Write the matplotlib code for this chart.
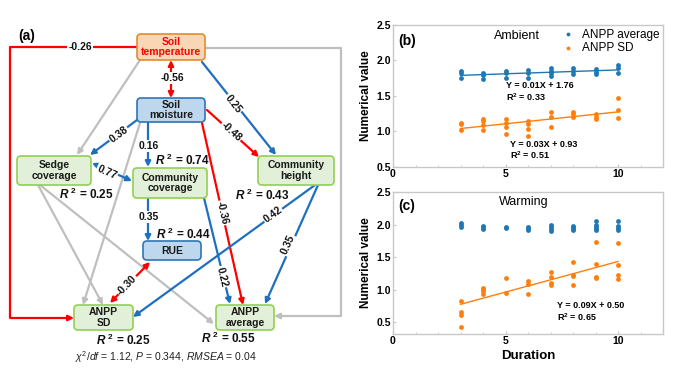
import math
import numpy as np
import matplotlib
matplotlib.use("Agg")
import matplotlib.pyplot as plt
from matplotlib.patches import FancyBboxPatch
from matplotlib.ticker import MultipleLocator

plt.rcParams['font.family'] = ['Liberation Sans', 'DejaVu Sans']
plt.rcParams['mathtext.fontset'] = 'custom'
plt.rcParams['mathtext.rm'] = 'Liberation Sans'
plt.rcParams['mathtext.it'] = 'Liberation Sans:italic'
plt.rcParams['mathtext.bf'] = 'Liberation Sans:bold'
plt.rcParams['mathtext.bfit'] = 'Liberation Sans:bold:italic'

# ---------------- data: panel (b) Ambient ----------------
amb_avg_x = [3, 3, 3, 4, 4, 4, 5, 5, 5, 6, 6, 6, 7, 7, 7, 7, 8, 8, 8, 9, 9, 9, 10, 10, 10]
amb_avg_y = [1.85, 1.83, 1.76, 1.82, 1.80, 1.74, 1.85, 1.82, 1.76, 1.86, 1.82, 1.75,
             1.89, 1.85, 1.82, 1.78, 1.89, 1.85, 1.81, 1.88, 1.84, 1.81, 1.93, 1.90, 1.82]
amb_sd_x = [3, 3, 3, 4, 4, 4, 4, 5, 5, 5, 5, 6, 6, 6, 6, 7, 7, 7, 8, 8, 8, 9, 9, 9, 10, 10, 10]
amb_sd_y = [1.12, 1.10, 1.02, 1.18, 1.15, 1.09, 1.02, 1.17, 1.12, 1.07, 0.97,
            1.15, 1.10, 1.04, 0.94, 1.28, 1.21, 1.07, 1.28, 1.25, 1.21,
            1.25, 1.21, 1.18, 1.47, 1.30, 1.19]
amb_avg_eq = ["Y = 0.01X + 1.76", "0.33"]
amb_sd_eq = ["Y = 0.03X + 0.93", "0.51"]

# ---------------- data: panel (c) Warming ----------------
warm_avg_x = [3, 3, 3, 4, 4, 4, 5, 5, 6, 6, 6, 7, 7, 7, 7, 8, 8, 8, 8, 9, 9, 9, 9, 9, 10, 10, 10, 10]
warm_avg_y = [2.02, 1.99, 1.96, 1.98, 1.96, 1.93, 1.96, 1.94, 1.96, 1.94, 1.92,
              1.99, 1.96, 1.93, 1.90, 1.98, 1.96, 1.93, 1.91,
              2.06, 2.00, 1.96, 1.93, 1.91, 2.05, 1.98, 1.95, 1.91]
warm_sd_x = [3, 3, 3, 3, 4, 4, 4, 4, 5, 5, 6, 6, 6, 7, 7, 7, 7, 8, 8, 8, 8, 9, 9, 9, 9, 10, 10, 10, 10]
warm_sd_y = [0.82, 0.66, 0.61, 0.43, 1.03, 1.01, 0.98, 0.94, 1.18, 0.95, 1.14, 1.09, 0.94,
             1.27, 1.20, 1.11, 1.07, 1.42, 1.23, 1.21, 1.07, 1.73, 1.40, 1.20, 1.18,
             1.71, 1.38, 1.23, 1.17]
warm_sd_eq = ["Y = 0.09X + 0.50", "0.65"]

x_ticks = [0, 5, 10]
y_ticks = [0.5, 1.0, 1.5, 2.0, 2.5]

# ---------------- data: panel (a) path diagram ----------------
# node: (left, top, right, bottom) in pixel layout units, label, style
nodes = {
    'temp': ((137, 34, 205, 60), "Soil\ntemperature", 'orange'),
    'moist': ((137, 98, 205, 122), "Soil\nmoisture", 'blue'),
    'sedge': ((17, 156, 91, 185), "Sedge\ncoverage", 'green'),
    'ccov': ((133, 168, 207, 198), "Community\ncoverage", 'green'),
    'chgt': ((258, 156, 334, 185), "Community\nheight", 'green'),
    'rue': ((143, 241, 201, 260), "RUE", 'blue'),
    'sd': ((74, 305, 133, 330), "ANPP\nSD", 'green'),
    'avg': ((216, 305, 274, 330), "ANPP\naverage", 'green'),
}
r2_labels = [(182, 160, "0.74"), (86, 194, "0.25"), (262, 195, "0.43"),
             (183, 234, "0.44"), (123, 340, "0.25"), (228, 338, "0.55")]
fit_stats = r'$\chi^2$/$df$ = 1.12, $P$ = 0.344, $RMSEA$ = 0.04'

BLUE = '#1f6fc0'
RED = '#ff0000'
GRAY = '#bfbfbf'
# straight edges: start, end, color, coefficient label, label position, double-headed
edges = [
    ((202, 62), (276, 155), BLUE, "0.25", (233, 104), False),
    ((140, 60), (77, 155), GRAY, None, None, False),
    ((202, 123), (243, 305), RED, "-0.36", (222, 213), False),
    ((207, 110), (259, 157), RED, "-0.48", (231, 132), False),
    ((137, 120), (90, 155), BLUE, "0.38", (119, 135), False),
    ((148, 122), (148, 167), BLUE, "0.16", (149, 146), False),
    ((140, 123), (83, 305), GRAY, None, None, False),
    ((38, 185), (103, 305), GRAY, None, None, False),
    ((40, 185), (214, 324), GRAY, None, None, False),
    ((92, 163), (132, 181), BLUE, "0.77", (107, 172), True),
    ((148, 198), (148, 241), BLUE, "0.35", (149, 217), False),
    ((204, 198), (230, 304), BLUE, "0.22", (222, 277), False),
    ((150, 262), (110, 303), RED, "-0.30", (127, 285), True),
    ((315, 185), (133, 317), BLUE, "0.42", (273, 215), False),
    ((318, 185), (265, 304), BLUE, "0.35", (288, 245), False),
    ((171, 60), (171, 98), RED, "-0.56", (172, 78), True),
]
# elbow edges: list of points, color, label, label position
elbows = [
    ([(137, 47), (10, 47), (10, 318), (74, 318)], RED, "-0.26", (80, 47)),
    ([(205, 48), (341, 48), (341, 316), (274, 316)], GRAY, None, None),
]

styles = {
    'orange': dict(fc='#f9d7b5', ec='#e58a2e', tc='#ff0000'),
    'blue': dict(fc='#bdd7ee', ec='#2e75b6', tc='#1a1a1a'),
    'green': dict(fc='#e2f0d9', ec='#92d050', tc='#1a1a1a'),
}

fig = plt.figure(figsize=(7.0, 3.8), dpi=100)

# ---------------- panel (a) ----------------
axa = fig.add_axes([0, 0, 370 / 700, 1])
axa.set_xlim(0, 370)
axa.set_ylim(380, 0)
axa.axis('off')


def angle_of(p0, p1):
    dx = p1[0] - p0[0]
    dy = -(p1[1] - p0[1])
    a = math.degrees(math.atan2(dy, dx))
    if a > 90:
        a -= 180
    if a <= -90:
        a += 180
    return a


def coef_label(x, y, s, rot):
    axa.text(x, y, s, rotation=rot, rotation_mode='anchor', ha='center', va='center',
             fontsize=7.5, fontweight='bold', color='#111111', zorder=4,
             bbox=dict(fc='white', ec='none', pad=0.6))


for (p0, p1, col, lab, lpos, dbl) in edges:
    axa.annotate('', xy=p1, xytext=p0,
                 arrowprops=dict(arrowstyle='<|-|>' if dbl else '-|>', color=col, lw=1.6,
                                 mutation_scale=8, shrinkA=0, shrinkB=0), zorder=2)
    if lab:
        rot = angle_of(p0, p1)
        if p0[0] == p1[0]:
            rot = 0
        coef_label(lpos[0], lpos[1], lab, rot)

for (pts, col, lab, lpos) in elbows:
    xs = [p[0] for p in pts[:-1]]
    ys = [p[1] for p in pts[:-1]]
    axa.plot(xs, ys, color=col, lw=1.6, solid_capstyle='butt', zorder=2)
    axa.annotate('', xy=pts[-1], xytext=pts[-2],
                 arrowprops=dict(arrowstyle='-|>', color=col, lw=1.6, mutation_scale=8,
                                 shrinkA=0, shrinkB=0), zorder=2)
    if lab:
        coef_label(lpos[0], lpos[1], lab, 0)

for key, ((l, t, r, b), txt, st) in nodes.items():
    s = styles[st]
    box = FancyBboxPatch((l, t), r - l, b - t, boxstyle='round,pad=0,rounding_size=4',
                         fc=s['fc'], ec=s['ec'], lw=1.2, zorder=5)
    axa.add_patch(box)
    axa.text((l + r) / 2, (t + b) / 2, txt, ha='center', va='center', fontsize=7.5,
             fontweight='bold', color=s['tc'], linespacing=1.1, zorder=6)

for (x, y, v) in r2_labels:
    axa.text(x, y, r'$\mathbfit{R}$ $^{\mathbf{2}}$ = ' + v, ha='center', va='center',
             fontsize=8.5, fontweight='bold', color='#111111', zorder=6)

axa.text(166, 357, fit_stats, ha='center', va='center', fontsize=7.5, color='#222222')
axa.text(18, 36, "(a)", ha='left', va='center', fontsize=10, fontweight='bold')

# ---------------- panels (b) and (c) ----------------
C_BLUE = '#1f77b4'
C_ORANGE = '#ff7f0e'


def style_axes(ax, ylim):
    ax.set_xlim(0, 12)
    ax.set_ylim(*ylim)
    ax.set_xticks(x_ticks)
    ax.set_yticks(y_ticks)
    ax.xaxis.set_minor_locator(MultipleLocator(1))
    for sp in ax.spines.values():
        sp.set_color('#c8c8c8')
        sp.set_linewidth(1.0)
    ax.tick_params(axis='both', which='major', labelsize=7.5, length=2, color='#c8c8c8',
                   pad=1.5, direction='in')
    ax.tick_params(axis='x', which='minor', length=1.5, color='#c8c8c8', direction='in')
    for lab in ax.get_xticklabels() + ax.get_yticklabels():
        lab.set_fontweight('bold')
    ax.set_ylabel("Numerical value", fontsize=8.5, fontweight='bold', labelpad=3)


def fit_line(ax, xs, ys, col):
    k, b = np.polyfit(xs, ys, 1)
    xx = np.array([min(xs), max(xs)])
    ax.plot(xx, k * xx + b, color=col, lw=1.0, zorder=2)


axb = fig.add_axes([393 / 700, 1 - 167 / 380, 270 / 700, 142 / 380])
style_axes(axb, (0.5, 2.5))
axb.scatter(amb_avg_x, amb_avg_y, s=12, color=C_BLUE, label="ANPP average", zorder=3, linewidths=0)
axb.scatter(amb_sd_x, amb_sd_y, s=12, color=C_ORANGE, label="ANPP SD", zorder=3, linewidths=0)
fit_line(axb, amb_avg_x, amb_avg_y, C_BLUE)
fit_line(axb, amb_sd_x, amb_sd_y, C_ORANGE)
axb.text(5.0, 1.65, amb_avg_eq[0], fontsize=6.5, fontweight='bold', va='center')
axb.text(5.0, 1.49, r'R$^{\mathbf{2}}$ = ' + amb_avg_eq[1], fontsize=6.5, fontweight='bold', va='center')
axb.text(5.2, 0.81, amb_sd_eq[0], fontsize=6.5, fontweight='bold', va='center')
axb.text(5.2, 0.66, r'R$^{\mathbf{2}}$ = ' + amb_sd_eq[1], fontsize=6.5, fontweight='bold', va='center')
axb.text(5.5, 2.34, "Ambient", fontsize=9, ha='center', va='center')
axb.text(0.25, 2.28, "(b)", fontsize=10, fontweight='bold', va='center')
axb.legend(loc='upper right', frameon=False, fontsize=8.5, handletextpad=0.2,
           borderaxespad=0.1, labelspacing=0.1, markerscale=0.8, borderpad=0.2)

axc = fig.add_axes([393 / 700, 1 - 334 / 380, 270 / 700, 142 / 380])
style_axes(axc, (0.32, 2.5))
axc.scatter(warm_avg_x, warm_avg_y, s=12, color=C_BLUE, zorder=3, linewidths=0)
axc.scatter(warm_sd_x, warm_sd_y, s=12, color=C_ORANGE, zorder=3, linewidths=0)
fit_line(axc, warm_sd_x, warm_sd_y, C_ORANGE)
axc.text(7.3, 0.75, warm_sd_eq[0], fontsize=6.5, fontweight='bold', va='center')
axc.text(7.3, 0.58, r'R$^{\mathbf{2}}$ = ' + warm_sd_eq[1], fontsize=6.5, fontweight='bold', va='center')
axc.text(5.8, 2.34, "Warming", fontsize=9, ha='center', va='center')
axc.text(0.25, 2.28, "(c)", fontsize=10, fontweight='bold', va='center')
axc.set_xlabel("Duration", fontsize=9.5, fontweight='bold', labelpad=3)

fig.savefig("out.png", dpi=100)
